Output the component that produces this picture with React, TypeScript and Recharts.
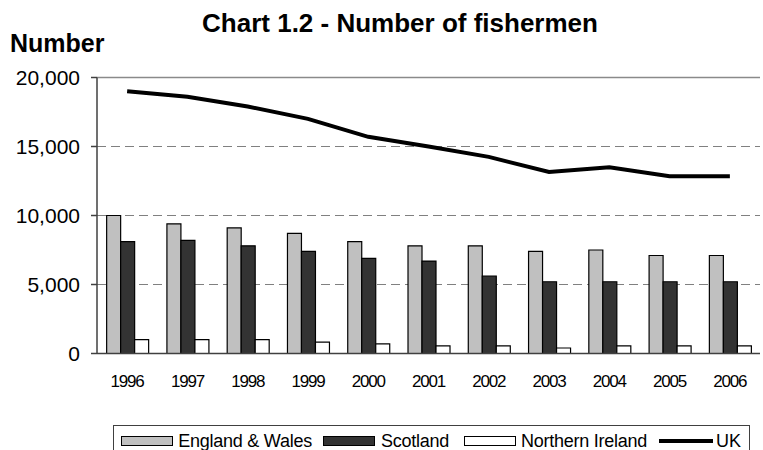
import React from "react";
import {
  ComposedChart,
  Bar,
  Line,
  XAxis,
  YAxis,
  CartesianGrid,
  ReferenceLine,
} from "recharts";

const years = ["1996", "1997", "1998", "1999", "2000", "2001", "2002", "2003", "2004", "2005", "2006"];
const englandWales = [10000, 9400, 9100, 8700, 8100, 7800, 7800, 7400, 7500, 7100, 7100];
const scotland = [8100, 8200, 7800, 7400, 6900, 6700, 5600, 5200, 5200, 5200, 5200];
const northernIreland = [1000, 1000, 1000, 820, 700, 550, 550, 400, 550, 550, 550];
const uk = [19000, 18600, 17900, 17000, 15700, 15000, 14250, 13150, 13500, 12850, 12850];
const yTicks = [0, 5000, 10000, 15000, 20000];

const data = years.map((y, i) => ({
  year: y,
  ew: englandWales[i],
  sc: scotland[i],
  ni: northernIreland[i],
  uk: uk[i],
}));

const FONT = "'Liberation Sans', Arial, Helvetica, sans-serif";

const fmt = (v: number) => v.toLocaleString("en-US");

export default function App() {
  return (
    <div
      style={{
        position: "absolute",
        left: 0,
        top: 0,
        width: 763,
        height: 450,
        overflow: "hidden",
        background: "#ffffff",
        fontFamily: FONT,
      }}
    >
      <div
        style={{
          position: "absolute",
          left: 150,
          top: 9.7,
          width: 500,
          textAlign: "center",
          fontSize: 26,
          lineHeight: "26px",
          fontWeight: "bold",
          color: "#000",
          whiteSpace: "nowrap",
        }}
      >
        Chart 1.2 - Number of fishermen
      </div>
      <div
        style={{
          position: "absolute",
          left: 10,
          top: 31.1,
          fontSize: 25,
          lineHeight: "25px",
          fontWeight: "bold",
          color: "#000",
          whiteSpace: "nowrap",
        }}
      >
        Number
      </div>
      <div style={{ position: "absolute", left: 0, top: 0 }}>
        <ComposedChart
          width={763}
          height={450}
          data={data}
          margin={{ top: 77.5, right: 3, left: 0, bottom: 66.5 }}
          barCategoryGap="16%"
          barGap={0}
          style={{ fontFamily: FONT }}
        >
          <CartesianGrid
            vertical={false}
            stroke="#808080"
            strokeDasharray="9 5"
            strokeWidth={1}
          />
          <ReferenceLine y={20000} stroke="#8a8a8a" strokeWidth={1.5} />
          <XAxis
            dataKey="year"
            height={30}
            tickLine={false}
            tickSize={0}
            tickMargin={21}
            axisLine={{ stroke: "#404040", strokeWidth: 1.5 }}
            tick={{ fill: "#000", fontSize: 17, letterSpacing: -1.2 }}
            interval={0}
          />
          <YAxis
            width={97}
            domain={[0, 20000]}
            ticks={yTicks}
            tickFormatter={fmt}
            tickSize={6}
            tickMargin={11}
            axisLine={{ stroke: "#404040", strokeWidth: 1.5 }}
            tickLine={{ stroke: "#404040", strokeWidth: 1.5 }}
            tick={{ fill: "#000", fontSize: 21 }}
            allowDataOverflow
          />
          <Bar dataKey="ew" fill="#c0c0c0" stroke="#000" strokeWidth={1.2} isAnimationActive={false} />
          <Bar dataKey="sc" fill="#333333" stroke="#000" strokeWidth={1.2} isAnimationActive={false} />
          <Bar dataKey="ni" fill="#ffffff" stroke="#000" strokeWidth={1.2} isAnimationActive={false} />
          <Line
            dataKey="uk"
            type="linear"
            stroke="#000"
            strokeWidth={4}
            dot={false}
            activeDot={false}
            isAnimationActive={false}
          />
        </ComposedChart>
      </div>
      {/* Legend */}
      <div
        style={{
          position: "absolute",
          left: 112.5,
          top: 424.5,
          width: 637,
          height: 40,
          border: "1px solid #404040",
          boxSizing: "border-box",
        }}
      />
      {[
        { label: "England & Wales", sw: 120.7, tx: 178.3, fill: "#c0c0c0" },
        { label: "Scotland", sw: 323.3, tx: 381, fill: "#333333" },
        { label: "Northern Ireland", sw: 464, tx: 521, fill: "#ffffff" },
      ].map((it) => (
        <React.Fragment key={it.label}>
          <div
            style={{
              position: "absolute",
              left: it.sw,
              top: 436,
              width: 52,
              height: 10,
              background: it.fill,
              border: "1.5px solid #000",
              boxSizing: "border-box",
            }}
          />
          <div
            style={{
              position: "absolute",
              left: it.tx,
              top: 431.5,
              fontSize: 18,
              lineHeight: "18px",
              letterSpacing: -0.25,
              color: "#000",
              whiteSpace: "nowrap",
            }}
          >
            {it.label}
          </div>
        </React.Fragment>
      ))}
      <div
        style={{
          position: "absolute",
          left: 659,
          top: 439,
          width: 54,
          height: 4,
          background: "#000",
        }}
      />
      <div
        style={{
          position: "absolute",
          left: 716,
          top: 431.5,
          fontSize: 18,
          lineHeight: "18px",
          color: "#000",
          whiteSpace: "nowrap",
        }}
      >
        UK
      </div>
    </div>
  );
}
